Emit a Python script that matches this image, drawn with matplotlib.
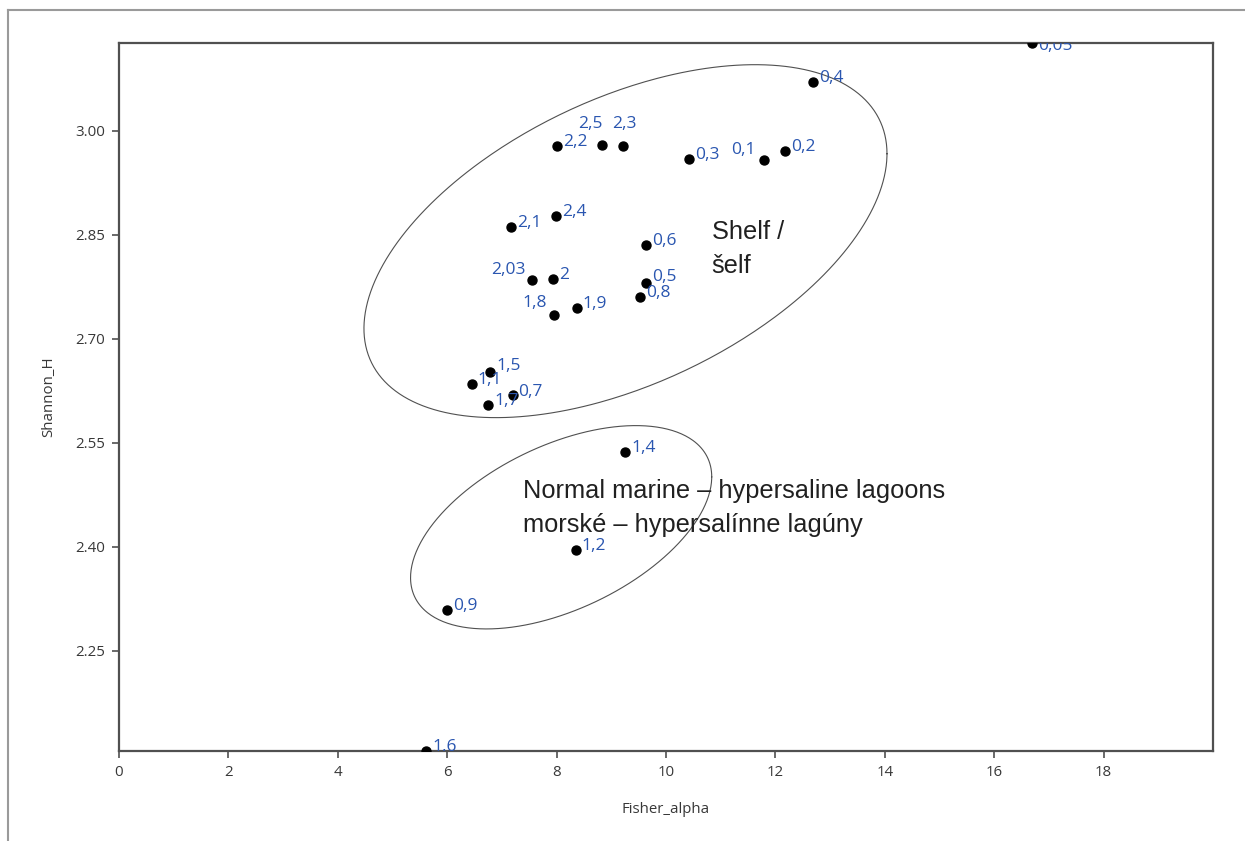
import matplotlib
matplotlib.use('Agg')
import matplotlib.pyplot as plt
from matplotlib.lines import Line2D
import numpy as np

# sample labels and values
labels = ['0,05', '0,4', '2,2', '2,5', '2,3', '0,3', '0,1', '0,2', '2,4', '2,1',
          '0,6', '2,03', '2', '0,5', '0,8', '1,8', '1,9', '1,5', '1,1', '0,7',
          '1,7', '1,4', '1,2', '0,9', '1,6']
fisher_alpha = [16.685, 12.687, 8.002, 8.824, 9.219, 10.426, 11.797, 12.175, 7.984, 7.166,
                9.629, 7.556, 7.940, 9.629, 9.525, 7.958, 8.367, 6.782, 6.448, 7.208,
                6.751, 9.250, 8.349, 6.002, 5.612]
shannon_h = [3.1265, 3.0707, 2.9774, 2.9798, 2.9774, 2.9596, 2.9582, 2.9712, 2.8774, 2.8605,
             2.8346, 2.7851, 2.7865, 2.7803, 2.7601, 2.7336, 2.7443, 2.6520, 2.6346, 2.6192,
             2.6038, 2.5360, 2.3946, 2.3091, 2.105]

x_ticks = [0, 2, 4, 6, 8, 10, 12, 14, 16, 18]
y_ticks = [2.25, 2.40, 2.55, 2.70, 2.85, 3.00]

# label placement (pixels, dx, dy, ha)
label_pos = {
    '2,5': (-11, 21, 'center'),
    '2,3': (1, 22, 'center'),
    '0,1': (-9, 10, 'right'),
    '2,03': (-7, 10, 'right'),
    '1,8': (-7, 12, 'right'),
    '0,5': (6, 6, 'left'),
    '1,5': (6, 6, 'left'),
    '0,7': (5, 3, 'left'),
    '0,05': (6, -3, 'left'),
}

# group ellipses: centre, x radius, y shear, y radius (data units)
ellipses = [
    (9.259, 2.8406, 4.781, 0.1261, 0.2212),
    (8.083, 2.4278, 2.753, 0.0727, 0.1274),
]

W, H = 1245, 841
fig = plt.figure(figsize=(W / 100, H / 100), dpi=100)
fig.patch.set_facecolor('white')
ax = fig.add_axes([119 / W, 1 - 751 / H, (1213 - 119) / W, (751 - 43) / H])

# outer frame of the original window
bx, by = 8 / W, 1 - 10 / H
fig.add_artist(Line2D([bx, bx], [0, by], color='#9a9a9a', lw=1.5, transform=fig.transFigure))
fig.add_artist(Line2D([bx, 1], [by, by], color='#9a9a9a', lw=1.5, transform=fig.transFigure))

ax.scatter(fisher_alpha, shannon_h, s=42, color='black', zorder=3, clip_on=True)

for lab, x, y in zip(labels, fisher_alpha, shannon_h):
    dx, dy, ha = label_pos.get(lab, (6, 4, 'left'))
    ax.annotate(lab, (x, y), xytext=(dx, dy), textcoords='offset pixels',
                ha=ha, va='center', color='#2a56b0', fontsize=12.5,
                family='Open Sans', clip_on=True, annotation_clip=False)

t = np.linspace(0, 2 * np.pi, 400)
for cx, cy, rx, sh, ry in ellipses:
    ax.plot(cx + rx * np.cos(t), cy + sh * np.cos(t) + ry * np.sin(t),
            color='#505050', lw=0.8, zorder=2)

# va='baseline' here sits on the last line
ax.text(10.835, 2.7947, 'Shelf /\nšelf', family='Liberation Sans', fontsize=18.3,
        color='#202020', va='baseline', ha='left', linespacing=1.55)
ax.text(7.391, 2.4206, 'Normal marine – hypersaline lagoons\nmorské – hypersalínne lagúny',
        family='Liberation Sans', fontsize=18.3, color='#202020', va='baseline', ha='left',
        linespacing=1.55)

ax.set_xlim(0, 20)
ax.set_ylim(min(shannon_h), max(shannon_h))
ax.set_xticks(x_ticks)
ax.set_yticks(y_ticks)
ax.set_xticklabels([str(v) for v in x_ticks])
ax.set_yticklabels(['%.2f' % v for v in y_ticks])

for sp in ax.spines.values():
    sp.set_color('#505050')
    sp.set_linewidth(1.6)
ax.tick_params(direction='out', length=5, width=1.2, color='#505050',
               labelcolor='#383838', labelsize=10.8, pad=5)
for lab in ax.get_xticklabels() + ax.get_yticklabels():
    lab.set_family('Open Sans')

ax.set_xlabel('Fisher_alpha', family='Open Sans', fontsize=10.8, color='#383838', labelpad=16)
ax.set_ylabel('Shannon_H', family='Open Sans', fontsize=10.8, color='#383838', labelpad=14)

fig.savefig('out.png', dpi=100)
